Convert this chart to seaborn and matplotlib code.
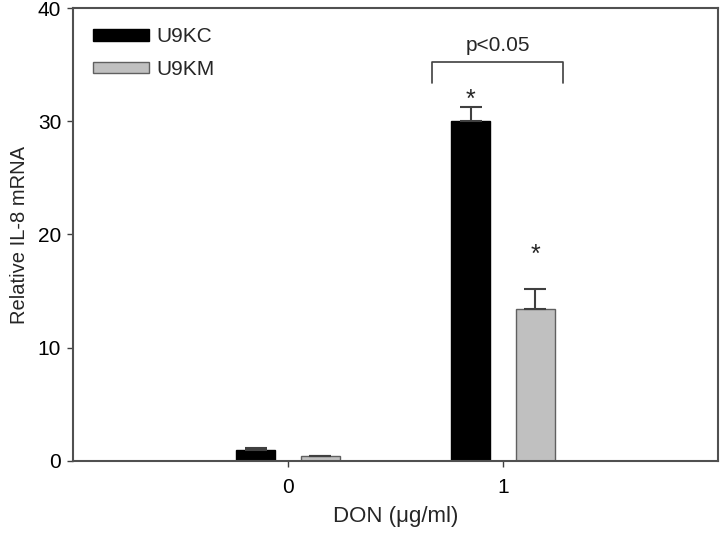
import matplotlib
matplotlib.use("Agg")
import matplotlib.pyplot as plt
import seaborn as sns
import pandas as pd
import numpy as np
from matplotlib.patches import Patch

dose = ["0", "1"]
groups = ["U9KC", "U9KM"]
u9kc_mean = [0.97, 30.0]
u9kc_err = [0.15, 1.3]
u9km_mean = [0.4, 13.45]
u9km_err = [0.05, 1.7]
yticks = [0, 10, 20, 30, 40]

df = pd.DataFrame({
    "dose": dose * 2,
    "group": [groups[0]] * 2 + [groups[1]] * 2,
    "value": u9kc_mean + u9km_mean,
})
errs = {groups[0]: u9kc_err, groups[1]: u9km_err}

sns.set_style("ticks")
plt.rcParams["font.family"] = ["Liberation Sans", "DejaVu Sans"]

fig = plt.figure(figsize=(7.2, 5.33), dpi=100)
ax = fig.add_axes([73 / 720, (533 - 461) / 533, 645 / 720, 453 / 533])

palette = {groups[0]: "#000000", groups[1]: "#c0c0c0"}
sns.barplot(data=df, x="dose", y="value", hue="group", order=dose, hue_order=groups,
            palette=palette, width=0.6, gap=0.4, errorbar=None, ax=ax, legend=False,
            saturation=1)

bar_containers = list(ax.containers)[:2]
edge = {groups[0]: "#000000", groups[1]: "#606060"}
centers = {}
for g, cont in zip(groups, bar_containers):
    xs = []
    ys = []
    for p in cont.patches:
        p.set_edgecolor(edge[g])
        p.set_linewidth(1.0)
        xs.append(p.get_x() + p.get_width() / 2)
        ys.append(p.get_height())
    centers[g] = xs
    e = errs[g]
    ax.errorbar(xs, ys, yerr=[np.zeros(len(e)), e], fmt="none", ecolor="#404040",
                elinewidth=1.5, capsize=8, capthick=1.5, zorder=1)

# legend
handles = [Patch(facecolor=palette[g], edgecolor=edge[g], label=g) for g in groups]
ax.legend(handles=handles, loc="upper left", bbox_to_anchor=(0.012, 0.985), frameon=False,
          fontsize=15, handlelength=2.7, handleheight=0.5, handletextpad=0.35,
          labelspacing=0.65, borderaxespad=0.2)

ax.set_xlim(-1.0, 2.0)
ax.set_ylim(0, 40)
ax.set_yticks(yticks)
ax.set_xlabel("DON (\u03bcg/ml)", fontsize=16, labelpad=6)
ax.set_ylabel("Relative IL-8 mRNA", fontsize=14.5, labelpad=6)
ax.tick_params(axis="both", labelsize=15, direction="out", length=4.5, width=1,
               color="#404040", labelcolor="black", pad=4)
ax.tick_params(axis="x", pad=8)
for s in ax.spines.values():
    s.set_linewidth(1.5)
    s.set_color("#505050")

# significance annotations
c1 = centers[groups[0]][1]
c2 = centers[groups[1]][1]
bl, br = c1 - 0.18, c2 + 0.13
ax.plot([bl, bl, br, br], [33.4, 35.2, 35.2, 33.4], color="#404040", lw=1.2, clip_on=False)
ax.text((bl + br) / 2, 36.7, "p<0.05", ha="center", va="center", fontsize=15)
ax.text(c1, 31.9, "*", ha="center", va="center", fontsize=18)
ax.text(c2, 18.2, "*", ha="center", va="center", fontsize=18)

fig.savefig("out.png", dpi=100)
